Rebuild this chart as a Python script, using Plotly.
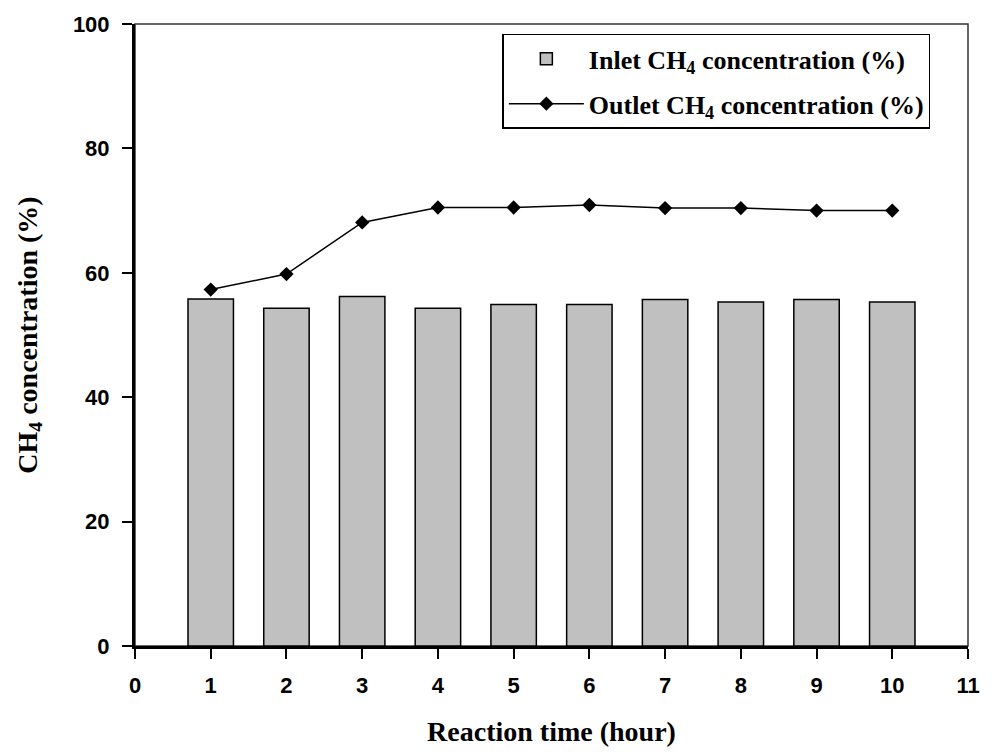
import plotly.graph_objects as go

# Reaction time (hour)
hours = [1, 2, 3, 4, 5, 6, 7, 8, 9, 10]
# CH4 concentration (%)
inlet_ch4 = [55.8, 54.3, 56.2, 54.3, 54.9, 54.9, 55.7, 55.3, 55.7, 55.3]
outlet_ch4 = [57.3, 59.8, 68.1, 70.5, 70.5, 70.9, 70.4, 70.4, 70.0, 70.0]

x_ticks = list(range(0, 12))
y_ticks = [0, 20, 40, 60, 80, 100]

serif = "Liberation Serif, Times New Roman, serif"
sans = "Liberation Sans, Arial, sans-serif"

fig = go.Figure()
fig.add_trace(go.Bar(
    x=hours, y=inlet_ch4, width=0.6, legendgroup="inlet",
    marker=dict(color="#c0c0c0", line=dict(color="black", width=1.5)),
    name="<b>Inlet CH<sub>4</sub> concentration (%)</b>",
))
fig.add_trace(go.Scatter(
    x=hours, y=outlet_ch4, mode="lines+markers", legendgroup="outlet",
    line=dict(color="black", width=1.5),
    marker=dict(symbol="diamond", size=11, color="black"),
    name="<b>Outlet CH<sub>4</sub> concentration (%)</b>",
))

# thin frame along the top and right of the plotting area
fig.add_shape(type="rect", xref="x domain", yref="y domain",
              x0=0, y0=0, x1=1, y1=1,
              line=dict(color="#333333", width=1.5), layer="below")

fig.update_layout(
    width=995, height=754,
    margin=dict(l=135, r=27, t=22, b=104),
    paper_bgcolor="white", plot_bgcolor="white",
    showlegend=True,
    legend=dict(
        x=0.441, y=0.984, xanchor="left", yanchor="top",
        bgcolor="white", bordercolor="black", borderwidth=1.5,
        font=dict(family=serif, size=26, color="black"),
        tracegroupgap=8, itemwidth=75,
    ),
    xaxis=dict(
        range=[0, 11], tickvals=x_ticks, ticks="outside", ticklen=10,
        tickwidth=2, tickcolor="black", ticklabelstandoff=8,
        showline=True, linecolor="black", linewidth=3,
        showgrid=False, zeroline=False,
        tickfont=dict(family=sans, size=22, color="black", weight="bold"),
        title=dict(text="<b>Reaction time (hour)</b>",
                   font=dict(family=serif, size=28, color="black"), standoff=24),
    ),
    yaxis=dict(
        range=[0, 100], tickvals=y_ticks, ticks="outside", ticklen=10,
        tickwidth=2, tickcolor="black", ticklabelstandoff=8,
        showline=True, linecolor="black", linewidth=3,
        showgrid=False, zeroline=False,
        tickfont=dict(family=sans, size=22, color="black", weight="bold"),
        title=dict(text="<b>CH<sub>4</sub> concentration (%)</b>",
                   font=dict(family=serif, size=28, color="black"), standoff=28),
    ),
)

fig.write_html("out.html")
